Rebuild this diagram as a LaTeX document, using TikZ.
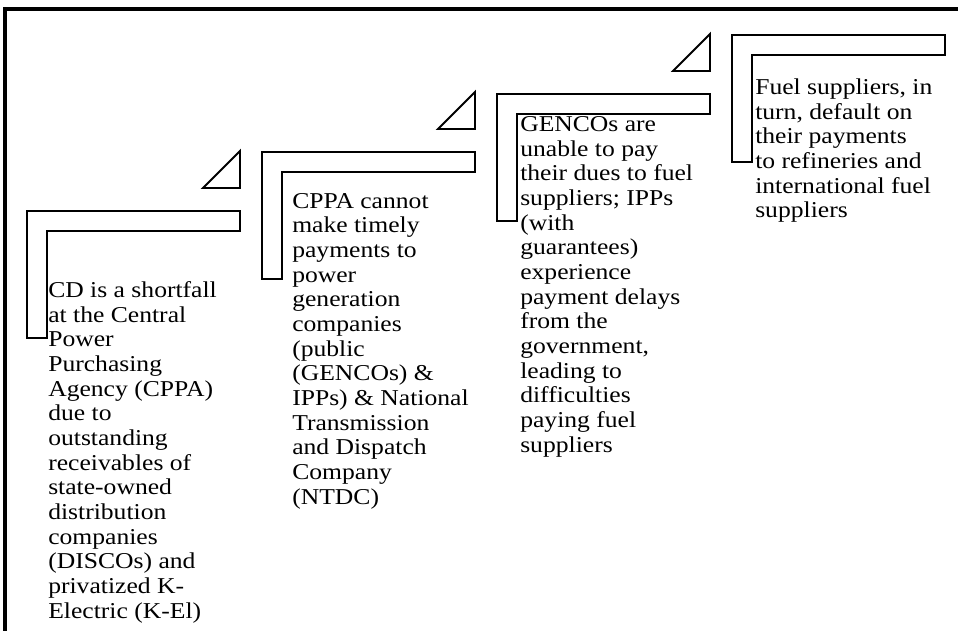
\documentclass[tikz,border=0pt]{standalone}
\usepackage{fontspec}
\setmainfont{Liberation Serif}[FakeStretch=1.13]
\usepackage{tikz}

\tikzset{
  frameline/.style={line width=3pt},
  stepline/.style={line width=1.4pt, line join=miter},
  steptext/.style={anchor=base west, inner sep=0pt, align=left,
    font=\fontsize{17}{18.5}\selectfont},
}

\begin{document}
\begin{tikzpicture}[x=0.75pt, y=-0.75pt]
\useasboundingbox (0, 0) rectangle (958, 631);

% 1. 外框 (只露出上边和左边)
\coordinate (TL) at (5.3, 9);
\coordinate (TR) at (960, 9);
\coordinate (BL) at (5.3, 633);
\draw[frameline] (TR) -- (TL) -- (BL);

% 2. 四个台阶形状和三角形
\foreach \i/\px/\py in {0/27/211, 1/262/152, 2/497/94, 3/732/35}
    {\draw[stepline] (\px, \py) -- (\px+213, \py) -- (\px+213, \py+20)
        -- (\px+20, \py+20) -- (\px+20, \py+127) -- (\px, \py+127) -- cycle;
     \ifnum\i<3
       \draw[stepline] (\px+213, \py-23) -- (\px+213, \py-60)
           -- (\px+176, \py-23) -- cycle;
     \fi
    }

% 3. 文字 (基线取最后一行)
\node[steptext] (cd) at (48, 618) {CD is a shortfall\\at the Central\\Power\\Purchasing\\Agency (CPPA)\\due to\\outstanding\\receivables of\\state-owned\\distribution\\companies\\(DISCOs) and\\privatized K-\\Electric (K-El)};
\node[steptext] (cppa) at (292, 504) {CPPA cannot\\make timely\\payments to\\power\\generation\\companies\\(public\\(GENCOs) \&\\IPPs) \& National\\Transmission\\and Dispatch\\Company\\(NTDC)};
\node[steptext] (gencos) at (520, 452) {GENCOs are\\unable to pay\\their dues to fuel\\suppliers; IPPs\\(with\\guarantees)\\experience\\payment delays\\from the\\government,\\leading to\\difficulties\\paying fuel\\suppliers};
\node[steptext] (fuel) at (755, 218) {Fuel suppliers, in\\turn, default on\\their payments\\to refineries and\\international fuel\\suppliers};
\end{tikzpicture}
\end{document}
